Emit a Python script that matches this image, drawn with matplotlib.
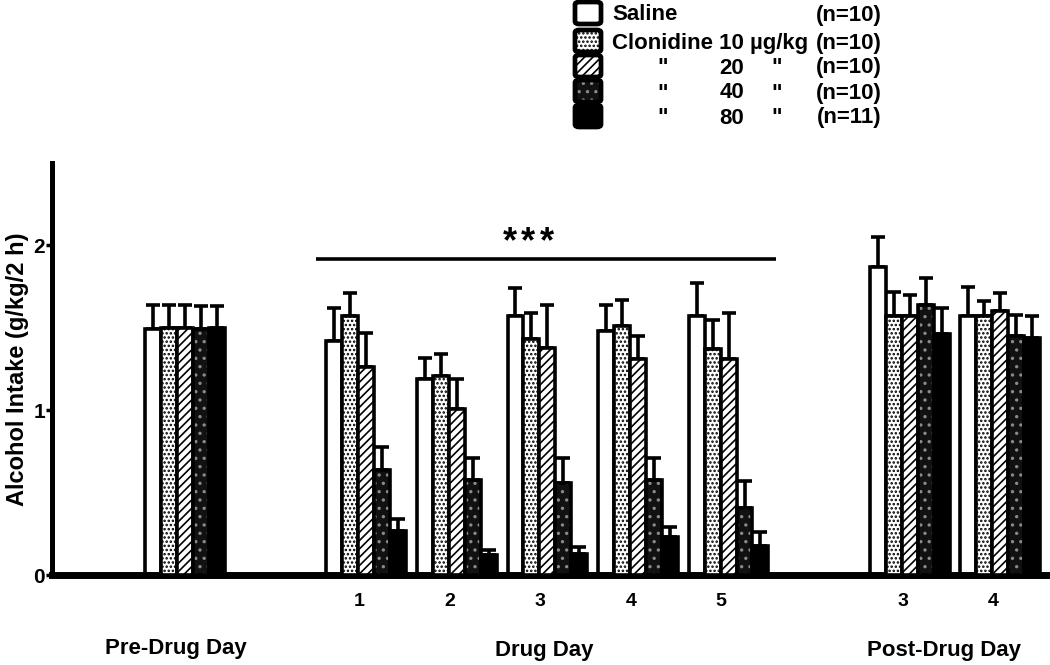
import matplotlib.pyplot as plt
import matplotlib.patches as mpatches
import numpy as np

plt.rcParams['font.family'] = ['Liberation Sans', 'DejaVu Sans']
plt.rcParams['font.weight'] = 'bold'
plt.rcParams['axes.labelweight'] = 'bold'
plt.rcParams['hatch.linewidth'] = 1.2

# group labels (tick labels) and their period
ticks = ["", "1", "2", "3", "4", "5", "3", "4"]
periods = ["Pre-Drug Day", "Drug Day", "Post-Drug Day"]

# mean alcohol intake (g/kg/2 h) per group, then SEM
saline = [1.49, 1.42, 1.19, 1.57, 1.48, 1.57, 1.87, 1.57]
clon10 = [1.50, 1.57, 1.21, 1.43, 1.51, 1.37, 1.57, 1.57]
clon20 = [1.50, 1.26, 1.01, 1.38, 1.31, 1.31, 1.57, 1.60]
clon40 = [1.49, 0.64, 0.58, 0.56, 0.58, 0.41, 1.64, 1.45]
clon80 = [1.50, 0.27, 0.12, 0.13, 0.23, 0.18, 1.46, 1.44]

saline_err = [0.15, 0.20, 0.13, 0.17, 0.16, 0.20, 0.18, 0.18]
clon10_err = [0.14, 0.14, 0.13, 0.16, 0.16, 0.18, 0.15, 0.09]
clon20_err = [0.14, 0.21, 0.18, 0.26, 0.14, 0.28, 0.13, 0.11]
clon40_err = [0.14, 0.14, 0.13, 0.15, 0.13, 0.16, 0.16, 0.13]
clon80_err = [0.13, 0.07, 0.03, 0.04, 0.06, 0.08, 0.16, 0.13]

legend_doses = ["Saline", "Clonidine 10 µg/kg", "20", "40", "80"]
legend_n = ["(n=10)", "(n=10)", "(n=10)", "(n=10)", "(n=11)"]

means = [saline, clon10, clon20, clon40, clon80]
errs = [saline_err, clon10_err, clon20_err, clon40_err, clon80_err]

# x layout: pre-drug, gap, 5 drug days, gap, 2 post-drug days
pos = np.array([0, 2, 3, 4, 5, 6, 8, 9], dtype=float)
width = 0.176

# (face, hatch, hatch colour)
styles = [('white', None, 'black'),
          ('white', '....', 'black'),
          ('white', '////', 'black'),
          ('#111111', '..', '#8a8a8a'),
          ('black', None, 'black')]

fig = plt.figure(figsize=(10.5, 6.65), dpi=100)
ax = fig.add_axes([0.0495, 0.135, 0.9505, 0.62])

for i, (m, e) in enumerate(zip(means, errs)):
    x = pos + (i - 2) * width
    face, hatch, hcol = styles[i]
    ax.errorbar(x, m, yerr=[np.zeros(len(m)), e], fmt='none', ecolor='black',
                elinewidth=2.6, capsize=5, capthick=2.6, zorder=2 + i)
    ax.bar(x, m, width, color=face, edgecolor=hcol, hatch=hatch, linewidth=0,
           zorder=2 + i)
    ax.bar(x, m, width, facecolor='none', edgecolor='black', linewidth=2.6,
           zorder=2 + i)

# significance bar across drug days
ax.plot([pos[1] - 0.55, pos[5] + 0.52], [1.92, 1.92], color='black', lw=2.6,
        solid_capstyle='butt')
for xs in [3.59, 3.79, 3.99]:
    ax.text(xs, 2.12, "*", ha='center', va='top', fontsize=26)

ax.set_xlim(-1.468, 9.548)
ax.set_ylim(0, 2.5)
ax.set_yticks([0, 1, 2])
ax.set_xticks(pos - 0.08)
ax.set_xticklabels(ticks, fontsize=14)
ax.tick_params(axis='x', length=0, pad=13)
ax.tick_params(axis='y', length=4, width=2.5, labelsize=15, pad=1)
ax.set_ylabel("Alcohol Intake (g/kg/2 h)", fontsize=17, labelpad=3)

for s in ['top', 'right']:
    ax.spines[s].set_visible(False)
ax.spines['left'].set_linewidth(3.6)
ax.spines['bottom'].set_linewidth(5)

# period labels under the axis
for label, xc, yp in zip(periods, [-0.1, 3.97, 8.38], [648, 650, 650]):
    ax.text(xc, -(yp - 575) / (0.62 * 665), label,
            transform=ax.get_xaxis_transform(), ha='center', va='center',
            fontsize=16)

# legend, drawn by hand to keep the column alignment
rows_y = [13, 41, 66, 91, 116]
for i, yp in enumerate(rows_y):
    yf = 1 - yp / 665
    face, hatch, hcol = styles[i]
    bx, bw, bh = 575 / 1050, 26 / 1050, 22 / 665
    fig.patches.append(mpatches.FancyBboxPatch(
        (bx, yf - bh / 2), bw, bh, boxstyle='round,pad=0,rounding_size=0.004',
        transform=fig.transFigure, facecolor=face, edgecolor=hcol, hatch=hatch,
        linewidth=0))
    fig.patches.append(mpatches.FancyBboxPatch(
        (bx, yf - bh / 2), bw, bh, boxstyle='round,pad=0,rounding_size=0.004',
        transform=fig.transFigure, facecolor='none', edgecolor='black',
        linewidth=3.4))
    ty = yf - 2 / 665
    if i < 2:
        fig.text(612 / 1050, ty, legend_doses[i], ha='left', va='center',
                 fontsize=16)
    else:
        fig.text(663 / 1050, ty, '"', ha='center', va='center', fontsize=16)
        fig.text(732 / 1050, ty, legend_doses[i], ha='center', va='center',
                 fontsize=16)
        fig.text(777 / 1050, ty, '"', ha='center', va='center', fontsize=16)
    fig.text(882 / 1050, ty, legend_n[i], ha='right', va='center', fontsize=16)

fig.savefig("out.png", dpi=100)
